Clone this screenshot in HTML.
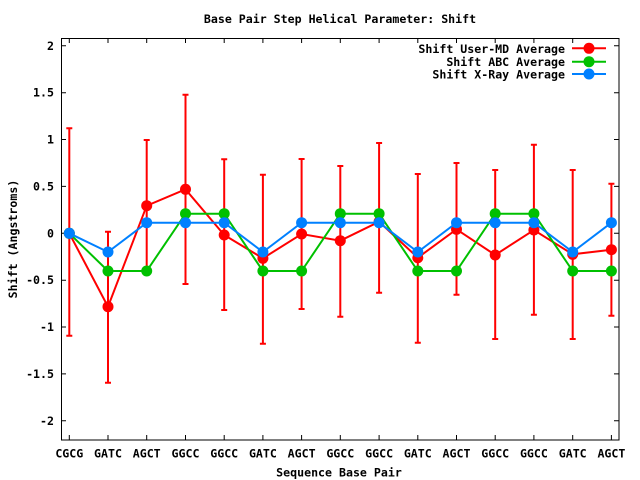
<!DOCTYPE html>
<html><head><meta charset="utf-8"><style>
html,body{margin:0;padding:0;background:#fff;}
svg{display:block;}
text{font-family:"DejaVu Sans Mono","Liberation Mono",monospace;font-weight:bold;font-size:11.6px;fill:#000;}
</style></head><body>
<svg width="640" height="480" viewBox="0 0 640 480" xmlns="http://www.w3.org/2000/svg">
<rect x="0" y="0" width="640" height="480" fill="#fff"/>
<!-- frame -->
<rect x="61.5" y="38.5" width="557.5" height="401.5" fill="none" stroke="#000" stroke-width="1"/>
<g stroke="#000" stroke-width="1">
<path d="M61 45.8h5M61 92.7h5M61 139.55h5M61 186.4h5M61 233.3h5M61 280.2h5M61 327.05h5M61 373.9h5M61 420.8h5"/>
<path d="M619 45.8h-5M619 92.7h-5M619 139.55h-5M619 186.4h-5M619 233.3h-5M619 280.2h-5M619 327.05h-5M619 373.9h-5M619 420.8h-5"/>
<path d="M69.3 440v-5M108 440v-5M146.7 440v-5M185.5 440v-5M224.2 440v-5M262.9 440v-5M301.6 440v-5M340.3 440v-5M379.1 440v-5M417.8 440v-5M456.5 440v-5M495.2 440v-5M533.9 440v-5M572.7 440v-5M611.4 440v-5"/>
<path d="M69.3 38v5M108 38v5M146.7 38v5M185.5 38v5M224.2 38v5M262.9 38v5M301.6 38v5M340.3 38v5M379.1 38v5M417.8 38v5M456.5 38v5M495.2 38v5M533.9 38v5M572.7 38v5"/>
</g>
<g text-anchor="end">
<text x="54" y="49.8">2</text>
<text x="54" y="96.7">1.5</text>
<text x="54" y="143.5">1</text>
<text x="54" y="190.4">0.5</text>
<text x="54" y="237.3">0</text>
<text x="54" y="284.2">-0.5</text>
<text x="54" y="331">-1</text>
<text x="54" y="377.9">-1.5</text>
<text x="54" y="424.8">-2</text>
</g>
<g text-anchor="middle">
<text x="69.3" y="457.5">CGCG</text>
<text x="108" y="457.5">GATC</text>
<text x="146.7" y="457.5">AGCT</text>
<text x="185.5" y="457.5">GGCC</text>
<text x="224.2" y="457.5">GGCC</text>
<text x="262.9" y="457.5">GATC</text>
<text x="301.6" y="457.5">AGCT</text>
<text x="340.3" y="457.5">GGCC</text>
<text x="379.1" y="457.5">GGCC</text>
<text x="417.8" y="457.5">GATC</text>
<text x="456.5" y="457.5">AGCT</text>
<text x="495.2" y="457.5">GGCC</text>
<text x="533.9" y="457.5">GGCC</text>
<text x="572.7" y="457.5">GATC</text>
<text x="611.4" y="457.5">AGCT</text>
<text x="339" y="476.5">Sequence Base Pair</text>
<text x="340" y="23">Base Pair Step Helical Parameter: Shift</text>
<text transform="translate(17,239) rotate(-90)">Shift (Angstroms)</text>
</g>
<g stroke="#ff0000" stroke-width="2" fill="none">
<path d="M69.3 128.3V335.7M66.3 128.3h6M66.3 335.7h6"/>
<path d="M108 231.7V382.7M105 231.7h6M105 382.7h6"/>
<path d="M146.7 140V271M143.7 140h6M143.7 271h6"/>
<path d="M185.5 94.7V284M182.5 94.7h6M182.5 284h6"/>
<path d="M224.2 159.3V310M221.2 159.3h6M221.2 310h6"/>
<path d="M262.9 174.7V343.7M259.9 174.7h6M259.9 343.7h6"/>
<path d="M301.6 159V309M298.6 159h6M298.6 309h6"/>
<path d="M340.3 166V316.7M337.3 166h6M337.3 316.7h6"/>
<path d="M379.1 143V292.7M376.1 143h6M376.1 292.7h6"/>
<path d="M417.8 174V342.7M414.8 174h6M414.8 342.7h6"/>
<path d="M456.5 163V294.7M453.5 163h6M453.5 294.7h6"/>
<path d="M495.2 170V339M492.2 170h6M492.2 339h6"/>
<path d="M533.9 144.7V314.7M530.9 144.7h6M530.9 314.7h6"/>
<path d="M572.7 170V339M569.7 170h6M569.7 339h6"/>
<path d="M611.4 183.7V315.7M608.4 183.7h6M608.4 315.7h6"/>
</g>
<polyline fill="none" stroke="#ff0000" stroke-width="2" points="69.3,233.3 108,306.7 146.7,205.7 185.5,189.3 224.2,235 262.9,258.3 301.6,234 340.3,240.7 379.1,221.7 417.8,257.7 456.5,229.3 495.2,255 533.9,230 572.7,254.3 611.4,249.7"/>
<g fill="#ff0000">
<circle cx="69.3" cy="233.3" r="5.5"/><circle cx="108" cy="306.7" r="5.5"/><circle cx="146.7" cy="205.7" r="5.5"/><circle cx="185.5" cy="189.3" r="5.5"/><circle cx="224.2" cy="235" r="5.5"/><circle cx="262.9" cy="258.3" r="5.5"/><circle cx="301.6" cy="234" r="5.5"/><circle cx="340.3" cy="240.7" r="5.5"/><circle cx="379.1" cy="221.7" r="5.5"/><circle cx="417.8" cy="257.7" r="5.5"/><circle cx="456.5" cy="229.3" r="5.5"/><circle cx="495.2" cy="255" r="5.5"/><circle cx="533.9" cy="230" r="5.5"/><circle cx="572.7" cy="254.3" r="5.5"/><circle cx="611.4" cy="249.7" r="5.5"/>
</g>
<polyline fill="none" stroke="#00c000" stroke-width="2" points="69.3,233.3 108,271 146.7,271 185.5,213.7 224.2,213.7 262.9,271 301.6,271 340.3,213.7 379.1,213.7 417.8,271 456.5,271 495.2,213.7 533.9,213.7 572.7,271 611.4,271"/>
<g fill="#00c000">
<circle cx="69.3" cy="233.3" r="5.5"/><circle cx="108" cy="271" r="5.5"/><circle cx="146.7" cy="271" r="5.5"/><circle cx="185.5" cy="213.7" r="5.5"/><circle cx="224.2" cy="213.7" r="5.5"/><circle cx="262.9" cy="271" r="5.5"/><circle cx="301.6" cy="271" r="5.5"/><circle cx="340.3" cy="213.7" r="5.5"/><circle cx="379.1" cy="213.7" r="5.5"/><circle cx="417.8" cy="271" r="5.5"/><circle cx="456.5" cy="271" r="5.5"/><circle cx="495.2" cy="213.7" r="5.5"/><circle cx="533.9" cy="213.7" r="5.5"/><circle cx="572.7" cy="271" r="5.5"/><circle cx="611.4" cy="271" r="5.5"/>
</g>
<polyline fill="none" stroke="#0080ff" stroke-width="2" points="69.3,233.3 108,252 146.7,222.7 185.5,222.7 224.2,222.7 262.9,252 301.6,222.7 340.3,222.7 379.1,222.7 417.8,252 456.5,222.7 495.2,222.7 533.9,222.7 572.7,252 611.4,222.7"/>
<g fill="#0080ff">
<circle cx="69.3" cy="233.3" r="5.5"/><circle cx="108" cy="252" r="5.5"/><circle cx="146.7" cy="222.7" r="5.5"/><circle cx="185.5" cy="222.7" r="5.5"/><circle cx="224.2" cy="222.7" r="5.5"/><circle cx="262.9" cy="252" r="5.5"/><circle cx="301.6" cy="222.7" r="5.5"/><circle cx="340.3" cy="222.7" r="5.5"/><circle cx="379.1" cy="222.7" r="5.5"/><circle cx="417.8" cy="252" r="5.5"/><circle cx="456.5" cy="222.7" r="5.5"/><circle cx="495.2" cy="222.7" r="5.5"/><circle cx="533.9" cy="222.7" r="5.5"/><circle cx="572.7" cy="252" r="5.5"/><circle cx="611.4" cy="222.7" r="5.5"/>
</g>
<g text-anchor="end">
<text x="565" y="53">Shift User-MD Average</text>
<text x="565" y="66">Shift ABC Average</text>
<text x="565" y="78.5">Shift X-Ray Average</text>
</g>
<path d="M572 48.3h34" stroke="#ff0000" stroke-width="2"/>
<circle cx="589" cy="48.3" r="5.5" fill="#ff0000"/>
<path d="M572 61.7h34" stroke="#00c000" stroke-width="2"/>
<circle cx="589" cy="61.7" r="5.5" fill="#00c000"/>
<path d="M572 74h34" stroke="#0080ff" stroke-width="2"/>
<circle cx="589" cy="74" r="5.5" fill="#0080ff"/>
</svg>
</body></html>
